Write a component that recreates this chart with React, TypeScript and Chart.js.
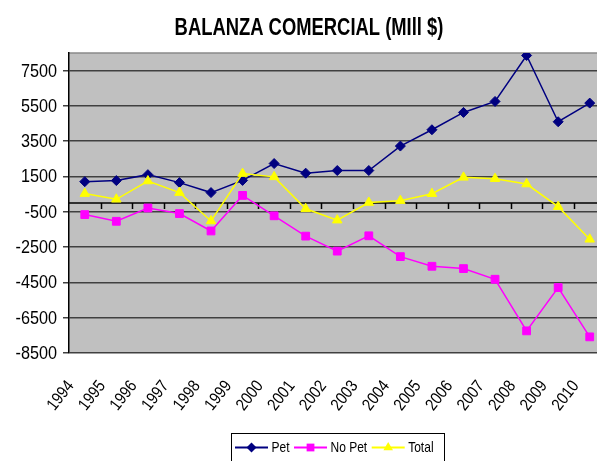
import React, { useEffect, useRef } from "react";
import { Chart, registerables } from "chart.js";

Chart.register(...registerables);

const years = ["1994", "1995", "1996", "1997", "1998", "1999", "2000", "2001", "2002", "2003", "2004", "2005", "2006", "2007", "2008", "2009", "2010"];
const pet = [1210, 1270, 1607, 1155, 590, 1280, 2236, 1690, 1840, 1840, 3227, 4151, 5133, 5755, 8359, 4604, 5661];
const noPet = [-657, -1036, -283, -600, -1585, 430, -726, -1877, -2727, -1859, -3038, -3585, -3717, -4321, -7246, -4793, -7586];
const total = [532, 210, 1246, 589, -1019, 1665, 1481, -330, -972, 28, 132, 528, 1453, 1377, 1075, -208, -2057];
const yTicks = [7500, 5500, 3500, 1500, -500, -2500, -4500, -6500, -8500];
const titleText = "BALANZA COMERCIAL (MIll $)";
const seriesNames = ["Pet", "No Pet", "Total"];
const seriesColors = ["#000080", "#FF00FF", "#FFFF00"];
const seriesShapes = ["rectRot", "rect", "triangle"];

const FAM = "'Liberation Sans', Arial, sans-serif";

function marker(ctx: CanvasRenderingContext2D, shape: string, x: number, y: number, r: number, color: string) {
  ctx.save();
  ctx.fillStyle = color;
  ctx.beginPath();
  if (shape === "rectRot") {
    ctx.moveTo(x, y - r);
    ctx.lineTo(x + r, y);
    ctx.lineTo(x, y + r);
    ctx.lineTo(x - r, y);
  } else if (shape === "rect") {
    const s = r * Math.SQRT1_2;
    ctx.rect(x - s, y - s, 2 * s, 2 * s);
  } else {
    let rad = 0;
    ctx.moveTo(x + Math.sin(rad) * r, y - Math.cos(rad) * r);
    rad += (2 * Math.PI) / 3;
    ctx.lineTo(x + Math.sin(rad) * r, y - Math.cos(rad) * r);
    rad += (2 * Math.PI) / 3;
    ctx.lineTo(x + Math.sin(rad) * r, y - Math.cos(rad) * r);
  }
  ctx.closePath();
  ctx.fill();
  ctx.restore();
}

function squashText(
  ctx: CanvasRenderingContext2D,
  text: string,
  x: number,
  y: number,
  sx: number,
  align: CanvasTextAlign,
  baseline: CanvasTextBaseline,
  rot = 0
) {
  ctx.save();
  ctx.translate(x, y);
  if (rot) ctx.rotate(rot);
  ctx.scale(sx, 1);
  ctx.textAlign = align;
  ctx.textBaseline = baseline;
  ctx.fillText(text, 0, 0);
  ctx.restore();
}

const deco = {
  id: "deco",
  beforeDraw(chart: any) {
    const { ctx, chartArea: a } = chart;
    ctx.save();
    ctx.fillStyle = "#C0C0C0";
    ctx.fillRect(a.left, a.top, a.right - a.left, a.bottom - a.top);
    ctx.strokeStyle = "#8a8a8a";
    ctx.lineWidth = 1.5;
    ctx.beginPath();
    ctx.moveTo(a.left, a.top);
    ctx.lineTo(a.right, a.top);
    ctx.stroke();
    ctx.restore();
  },
  beforeDatasetsDraw(chart: any) {
    const { ctx, chartArea: a } = chart;
    const xs = chart.scales.x;
    const ys = chart.scales.y;
    const y0 = ys.getPixelForValue(0);
    ctx.save();
    ctx.strokeStyle = "#000";
    ctx.lineWidth = 1.5;
    ctx.beginPath();
    ctx.moveTo(a.left, y0);
    ctx.lineTo(a.right, y0);
    const step = xs.getPixelForValue(1) - xs.getPixelForValue(0);
    for (let i = 0; i < years.length - 1; i++) {
      const x = Math.round(xs.getPixelForValue(i) + step / 2) + 0.5;
      ctx.moveTo(x, y0);
      ctx.lineTo(x, y0 + 6);
    }
    ctx.stroke();
    ctx.restore();
  },
  afterDraw(chart: any) {
    const { ctx } = chart;
    const xs = chart.scales.x;
    const ys = chart.scales.y;
    ctx.save();
    ctx.fillStyle = "#000";
    // title
    ctx.font = `bold 23px ${FAM}`;
    squashText(ctx, titleText, 309, 35, 0.8, "center", "alphabetic");
    // y labels
    ctx.font = `18px ${FAM}`;
    yTicks.forEach((v) => {
      squashText(ctx, String(v), 57, ys.getPixelForValue(v) + 1, 0.9, "right", "middle");
    });
    // x labels
    ctx.font = `17px ${FAM}`;
    years.forEach((lab, i) => {
      const x = xs.getPixelForValue(i) - 14;
      squashText(ctx, lab, x, 383, 0.86, "right", "middle", (-52 * Math.PI) / 180);
    });
    // legend
    ctx.strokeStyle = "#000";
    ctx.lineWidth = 1;
    ctx.strokeRect(231.5, 433.5, 213, 40);
    ctx.font = `15px ${FAM}`;
    let lx = 235;
    const ly = 447.5;
    seriesNames.forEach((name, i) => {
      ctx.strokeStyle = seriesColors[i];
      ctx.lineWidth = 2;
      ctx.beginPath();
      ctx.moveTo(lx, ly);
      ctx.lineTo(lx + 33, ly);
      ctx.stroke();
      marker(ctx, seriesShapes[i], lx + 16.5, ly, i === 0 ? 5 : 5.5, seriesColors[i]);
      ctx.fillStyle = "#000";
      const tx = lx + 36.5;
      squashText(ctx, name, tx, ly, 0.8, "left", "middle");
      lx = tx + ctx.measureText(name).width * 0.8 + 4.5;
    });
    ctx.restore();
  },
};

export default function App() {
  const ref = useRef<HTMLCanvasElement>(null);
  useEffect(() => {
    if (!ref.current) return;
    const series = [pet, noPet, total];
    const chart = new Chart(ref.current, {
      type: "line",
      data: {
        labels: years,
        datasets: series.map((d, i) => ({
          label: seriesNames[i],
          data: d,
          borderColor: seriesColors[i],
          backgroundColor: seriesColors[i],
          pointBorderColor: seriesColors[i],
          pointBackgroundColor: seriesColors[i],
          pointStyle: seriesShapes[i] as any,
          pointRadius: i === 0 ? 5 : 5.5,
          pointBorderWidth: 1,
          borderWidth: 1.5,
          tension: 0,
          order: 3 - i,
        })),
      },
      options: {
        animation: false,
        responsive: false,
        devicePixelRatio: 1,
        events: [],
        layout: { padding: { top: 53, right: 3, bottom: 108, left: 0 } },
        plugins: {
          legend: { display: false },
          title: { display: false },
          tooltip: { enabled: false },
        },
        scales: {
          x: {
            type: "category",
            display: false,
            offset: true,
          },
          y: {
            min: -8500,
            max: 8500,
            afterBuildTicks: (s: any) => {
              s.ticks = yTicks.map((v) => ({ value: v }));
            },
            afterFit: (s: any) => {
              s.width = 69;
            },
            grid: { color: "#404040", lineWidth: 1.5, tickLength: 6, drawTicks: true },
            border: { display: true, color: "#000", width: 1.5 },
            ticks: {
              display: false,
              autoSkip: false,
            },
          },
        },
      },
      plugins: [deco],
    });
    return () => chart.destroy();
  }, []);
  return (
    <div style={{ position: "absolute", left: 0, top: 0, width: 597, height: 461, overflow: "hidden", background: "#fff" }}>
      <canvas ref={ref} width={612} height={461} style={{ width: 612, height: 461, display: "block" }} />
    </div>
  );
}
